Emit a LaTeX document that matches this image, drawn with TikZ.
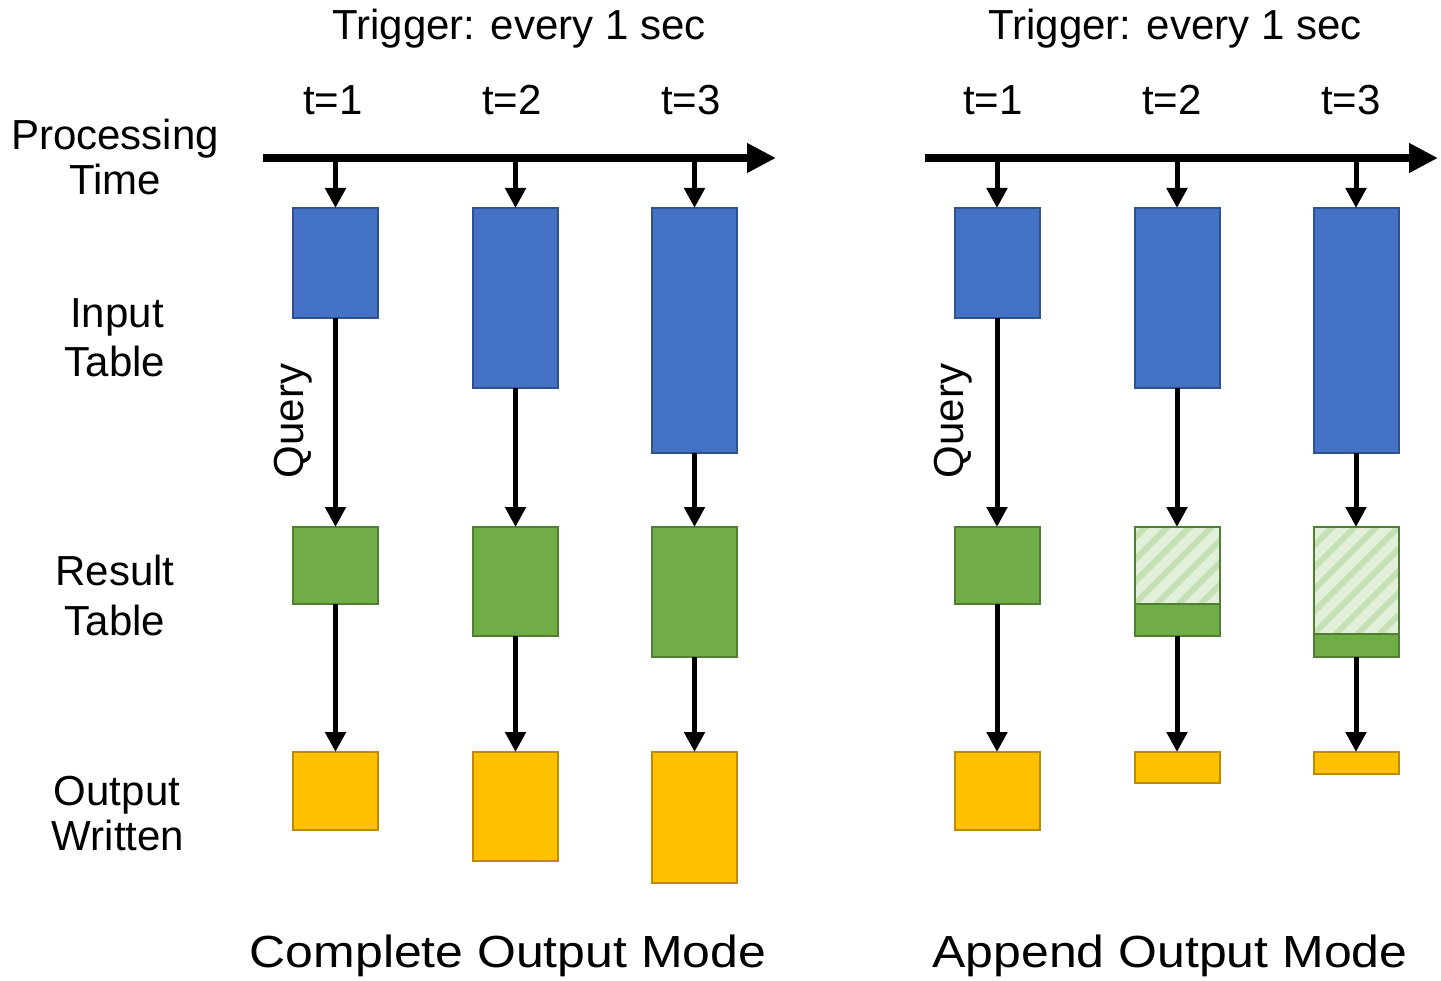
\documentclass[tikz,border=0pt]{standalone}
\usepackage{fontspec}
\setmainfont{Liberation Sans}
\usetikzlibrary{arrows.meta}

\definecolor{inblue}{HTML}{4472C4}
\definecolor{inblueline}{HTML}{2F528F}
\definecolor{resgreen}{HTML}{70AD47}
\definecolor{resline}{HTML}{507E32}
\definecolor{outgold}{HTML}{FFC000}
\definecolor{outline}{HTML}{BC8C00}
\definecolor{hatchbg}{HTML}{E2F0D9}
\definecolor{hatchfg}{HTML}{C5E0B4}

\begin{document}
\begin{tikzpicture}[x=1pt,y=-1pt,
  box/.style={rectangle, line width=2pt, minimum width=85pt, inner sep=0pt, outer sep=0pt},
  inbox/.style={box, fill=inblue, draw=inblueline},
  resbox/.style={box, fill=resgreen, draw=resline},
  outbox/.style={box, fill=outgold, draw=outline},
  oldbox/.style={box, fill=hatchbg, draw=resline,
    path picture={
      \foreach \k in {-7,...,7}
        \draw[hatchfg, line width=6pt]
          ([xshift=\k*22pt]path picture bounding box.south west) -- ++(160,-160);
    }},
  flow/.style={line width=5pt, -{Triangle[length=20pt,width=20pt]}},
  axis/.style={line width=8pt, -{Triangle[length=29pt,width=28pt]}},
  lbl/.style={font=\fontsize{42}{47}\selectfont, anchor=base, inner sep=0pt},
  mode/.style={font=\fontsize{45}{50}\selectfont, anchor=base, inner sep=0pt, xscale=1.11}]

\useasboundingbox (0,0) rectangle (1441,981);

% row labels
\node[lbl] (proc1) at (115,150) {Processing};
\node[lbl] (proc2) at (115,195) {Time};
\node[lbl] (inp1) at (117,328) {Input};
\node[lbl] (inp2) at (115,377) {Table};
\node[lbl] (res1) at (115,585) {Result};
\node[lbl] (res2) at (115,635) {Table};
\node[lbl] (out1) at (117,805) {Output};
\node[lbl] (out2) at (118,850) {Written};

% ---------- complete output mode ----------
\node[lbl] (trigA) at (519,40) {Trigger: every 1 sec};
\node[lbl] (tA1) at (333,115) {t=1};
\node[lbl] (tA2) at (512,115) {t=2};
\node[lbl] (tA3) at (691,115) {t=3};

\coordinate (axA0) at (263,158);
\coordinate (axA1) at (776,158);
\coordinate (tkA1) at (335.5,158);
\coordinate (tkA2) at (515.5,158);
\coordinate (tkA3) at (694.5,158);

\node[inbox, minimum height=110pt] (inA1) at (335.5,263) {};
\node[inbox, minimum height=180pt] (inA2) at (515.5,298) {};
\node[inbox, minimum height=245pt] (inA3) at (694.5,330.5) {};

\node[resbox, minimum height=77pt] (resA1) at (335.5,565.5) {};
\node[resbox, minimum height=109pt] (resA2) at (515.5,581.5) {};
\node[resbox, minimum height=130pt] (resA3) at (694.5,592) {};

\node[outbox, minimum height=78pt] (outA1) at (335.5,791) {};
\node[outbox, minimum height=109pt] (outA2) at (515.5,806.5) {};
\node[outbox, minimum height=131pt] (outA3) at (694.5,817.5) {};

\draw[axis] (axA0) -- (axA1);
\foreach \i in {1,2,3} {
  \draw[flow] (tkA\i) -- (inA\i.north);
  \draw[flow] (inA\i.south) -- (resA\i.north);
  \draw[flow] (resA\i.south) -- (outA\i.north);
}
\node[lbl, rotate=90] (qA) at (303,421) {Query};
\node[mode] (modeA) at (508,967) {Complete Output Mode};

% ---------- append output mode ----------
\node[lbl] (trigB) at (1175,40) {Trigger: every 1 sec};
\node[lbl] (tB1) at (993,115) {t=1};
\node[lbl] (tB2) at (1172,115) {t=2};
\node[lbl] (tB3) at (1351,115) {t=3};

\coordinate (axB0) at (925,158);
\coordinate (axB1) at (1438,158);
\coordinate (tkB1) at (997,158);
\coordinate (tkB2) at (1177,158);
\coordinate (tkB3) at (1356,158);

\node[inbox, minimum height=110pt] (inB1) at (997,263) {};
\node[inbox, minimum height=180pt] (inB2) at (1177,298) {};
\node[inbox, minimum height=245pt] (inB3) at (1356,330.5) {};

\node[resbox, minimum height=77pt] (resB1) at (997,565.5) {};
\node[oldbox, minimum height=77pt] (oldB2) at (1177,565.5) {};
\node[resbox, minimum height=32pt] (resB2) at (1177,620) {};
\node[oldbox, minimum height=107pt] (oldB3) at (1356,580.5) {};
\node[resbox, minimum height=23pt] (resB3) at (1356,645.5) {};

\node[outbox, minimum height=78pt] (outB1) at (997,791) {};
\node[outbox, minimum height=31pt] (outB2) at (1177,767.5) {};
\node[outbox, minimum height=22pt] (outB3) at (1356,763) {};

\draw[axis] (axB0) -- (axB1);
\foreach \i in {1,2,3} \draw[flow] (tkB\i) -- (inB\i.north);
\draw[flow] (inB1.south) -- (resB1.north);
\draw[flow] (inB2.south) -- (oldB2.north);
\draw[flow] (inB3.south) -- (oldB3.north);
\foreach \i in {1,2,3} \draw[flow] (resB\i.south) -- (outB\i.north);

\node[lbl, rotate=90] (qB) at (963,421) {Query};
\node[mode] (modeB) at (1170,967) {Append Output Mode};
\end{tikzpicture}
\end{document}
